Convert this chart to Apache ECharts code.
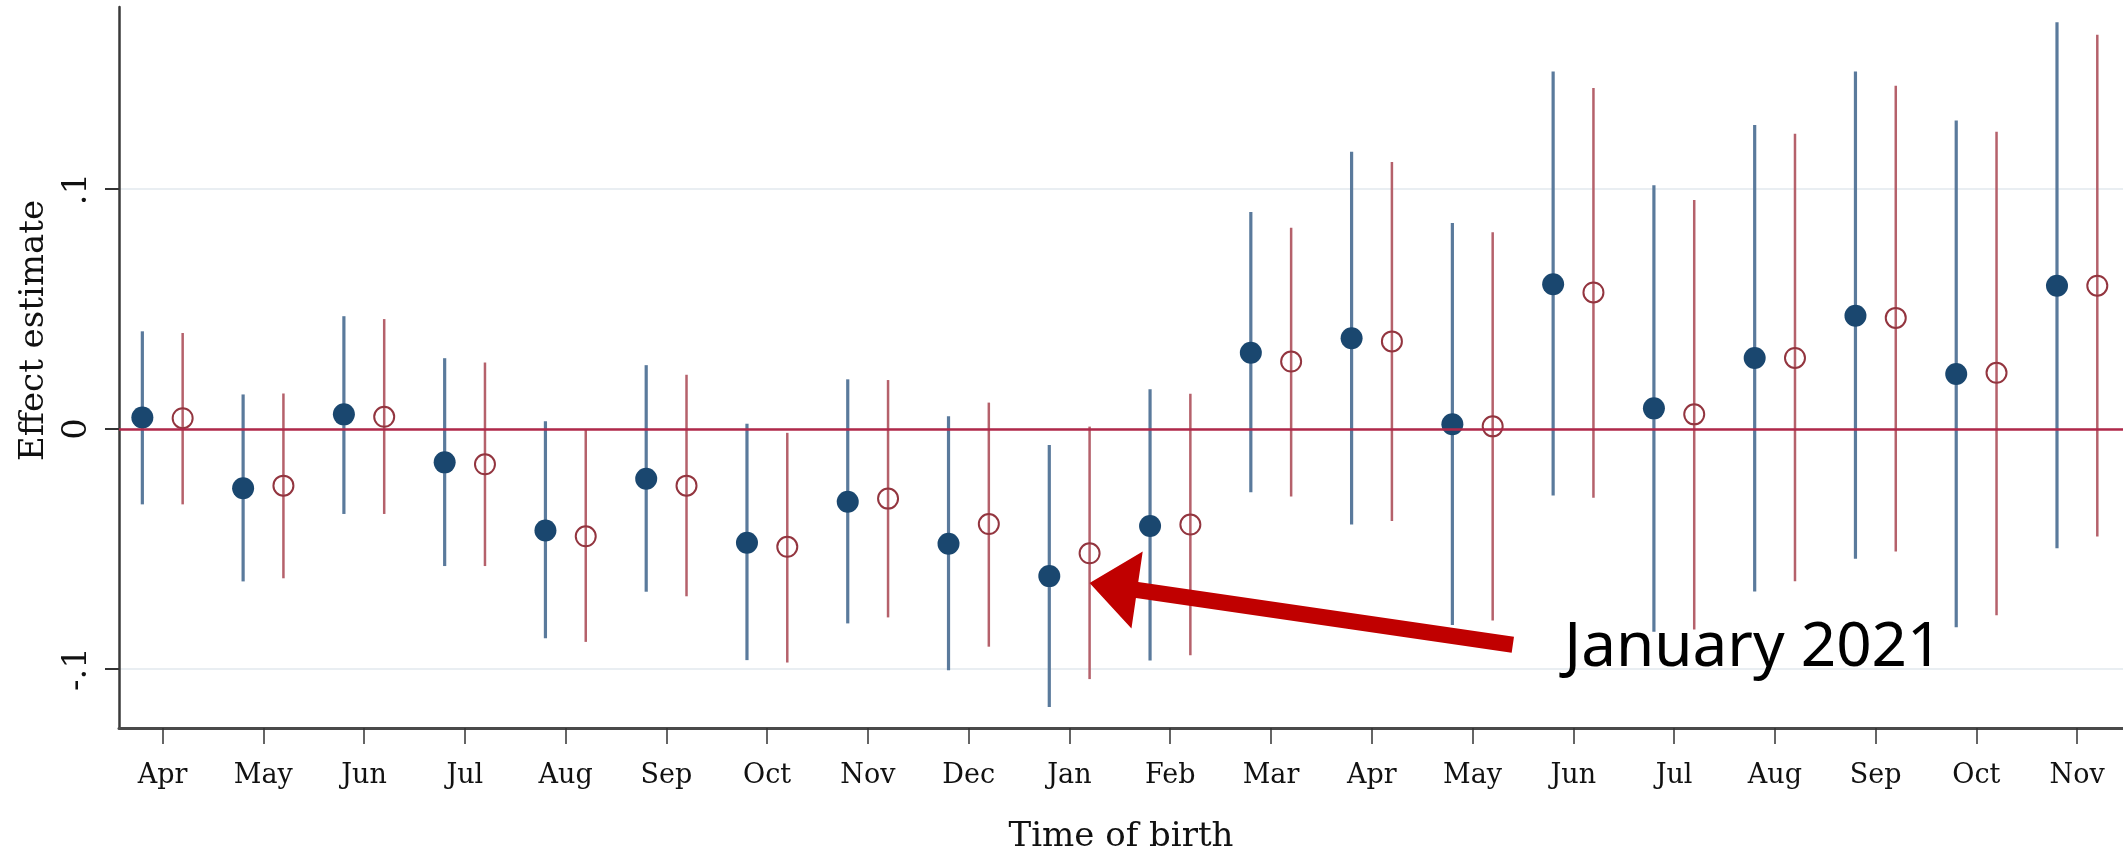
<!DOCTYPE html>
<html><head><meta charset="utf-8">
<script src="https://cdn.jsdelivr.net/npm/echarts@6/dist/echarts.min.js"></script>
<style>html,body{margin:0;padding:0;background:#fff;} #chart{width:2123px;height:848px;}</style>
</head><body><div id="chart"></div>
<script>
// ---- data ----
const months = ['Apr','May','Jun','Jul','Aug','Sep','Oct','Nov','Dec','Jan','Feb','Mar','Apr','May','Jun','Jul','Aug','Sep','Oct','Nov'];
const blueEst = [0.0048,-0.0247,0.0061,-0.0139,-0.0423,-0.0207,-0.0474,-0.0303,-0.0478,-0.0613,-0.0404,0.0318,0.0378,0.0020,0.0603,0.0086,0.0296,0.0472,0.0229,0.0597];
const blueLo  = [-0.0314,-0.0635,-0.0354,-0.0571,-0.0872,-0.0678,-0.0963,-0.0810,-0.1005,-0.1158,-0.0965,-0.0264,-0.0398,-0.0817,-0.0277,-0.0845,-0.0677,-0.0541,-0.0826,-0.0497];
const blueHi  = [0.0407,0.0144,0.0470,0.0295,0.0032,0.0266,0.0022,0.0207,0.0053,-0.0067,0.0166,0.0904,0.1155,0.0858,0.1490,0.1016,0.1267,0.1490,0.1285,0.1695];
const redEst  = [0.0045,-0.0236,0.0051,-0.0147,-0.0447,-0.0236,-0.0491,-0.0290,-0.0396,-0.0518,-0.0398,0.0281,0.0365,0.0011,0.0569,0.0061,0.0296,0.0463,0.0234,0.0597];
const redLo   = [-0.0314,-0.0622,-0.0354,-0.0571,-0.0887,-0.0697,-0.0973,-0.0785,-0.0907,-0.1042,-0.0943,-0.0281,-0.0383,-0.0798,-0.0286,-0.0835,-0.0634,-0.0510,-0.0776,-0.0448];
const redHi   = [0.0400,0.0148,0.0458,0.0277,-0.0003,0.0226,-0.0016,0.0204,0.0110,0.0010,0.0147,0.0839,0.1112,0.0820,0.1421,0.0954,0.1230,0.1430,0.1239,0.1643];
const yTicks = [-0.1, 0, 0.1];
const xTicks = months.map((m, i) => i + 1);
const annotationText = 'January 2021';
const annotationTip = [10.2, -0.0642];   // data coords the arrow points to
const annotationTail = [14.40, -0.0899]; // data coords of arrow tail
const annotationTextPos = [14.91, -0.0913];

// ---- layout / style ----
const X_MIN = 0.5683, X_MAX = 20.455;
const Y_MIN = -0.12458, Y_MAX = 0.17583;
const OFF = 0.2;
const SERIF = '"DejaVu Serif", "Liberation Serif", serif';
const BLUE_DOT = '#1a476f', BLUE_CI = '#5a7a9c';
const RED_DOT = '#93353f', RED_CI = '#b5616b';

const chart = echarts.init(document.getElementById('chart'), null, {renderer: 'canvas'});

function ciSeries(name, lo, hi, off, color, width) {
  return {
    type: 'custom', name, silent: true, z: 2,
    data: lo.map((v, i) => [i + 1, v, hi[i]]),
    encode: {x: 0, y: [1, 2]},
    renderItem: (params, api) => {
      const a = api.coord([api.value(0) + off, api.value(1)]);
      const b = api.coord([api.value(0) + off, api.value(2)]);
      return {type: 'line', shape: {x1: a[0], y1: a[1], x2: b[0], y2: b[1]},
              style: {stroke: color, lineWidth: width}};
    }
  };
}

function fmtY(v) {
  if (Math.abs(v) < 1e-9) return '0';
  return (Math.round(v * 10) / 10).toString().replace('0.', '.');
}

chart.setOption({
  animation: false,
  backgroundColor: '#ffffff',
  grid: {left: 119, right: 0, top: 7, bottom: 120, containLabel: false, outerBoundsMode: 'none'},
  xAxis: {
    type: 'value', min: X_MIN, max: X_MAX,
    axisLine: {show: true, onZero: false, lineStyle: {color: '#4a4a4a', width: 3}},
    axisTick: {show: true, customValues: xTicks, length: 16, lineStyle: {color: '#333', width: 1.5}},
    axisLabel: {customValues: xTicks, formatter: v => months[Math.round(v) - 1], fontFamily: SERIF,
                fontSize: 27, color: '#111', margin: 34, hideOverlap: false},
    splitLine: {show: false},
    name: 'Time of birth', nameLocation: 'middle', nameGap: 92,
    nameTextStyle: {fontFamily: SERIF, fontSize: 34, color: '#111'}
  },
  yAxis: {
    type: 'value', min: Y_MIN, max: Y_MAX,
    axisLine: {show: true, onZero: false, lineStyle: {color: '#3a3a3a', width: 2.5}},
    axisTick: {show: true, customValues: yTicks, length: 14, lineStyle: {color: '#333', width: 2}},
    axisLabel: {customValues: yTicks, formatter: fmtY, rotate: 90, fontFamily: SERIF,
                fontSize: 34, color: '#111', margin: 25},
    splitLine: {show: true, lineStyle: {color: '#e9eef2', width: 2}},
    name: 'Effect estimate', nameLocation: 'middle', nameGap: 68, nameRotate: 90,
    nameTextStyle: {fontFamily: SERIF, fontSize: 34, color: '#111', padding: [0, 0, 0, 74]}
  },
  series: [
    ciSeries('Blue CI', blueLo, blueHi, -OFF, BLUE_CI, 3.2),
    ciSeries('Red CI', redLo, redHi, OFF, RED_CI, 2.5),
    {
      type: 'scatter', name: 'Blue', z: 4,
      data: blueEst.map((v, i) => [i + 1 - OFF, v]),
      symbol: 'circle', symbolSize: 22,
      itemStyle: {color: BLUE_DOT, opacity: 1},
      markLine: {
        silent: true, symbol: 'none', label: {show: false},
        lineStyle: {color: '#b0284a', width: 2.5, type: 'solid'},
        data: [{yAxis: 0}]
      }
    },
    {
      type: 'scatter', name: 'Red', z: 4,
      data: redEst.map((v, i) => [i + 1 + OFF, v]),
      symbol: 'circle', symbolSize: 20,
      itemStyle: {color: 'rgba(0,0,0,0)', borderColor: RED_DOT, borderWidth: 2, opacity: 1}
    }
  ]
});

// annotation arrow + label anchored to data coordinates
const tip = chart.convertToPixel({gridIndex: 0}, annotationTip);
const tail = chart.convertToPixel({gridIndex: 0}, annotationTail);
const tpos = chart.convertToPixel({gridIndex: 0}, annotationTextPos);
const dx = tail[0] - tip[0], dy = tail[1] - tip[1];
const L = Math.hypot(dx, dy);
const ux = dx / L, uy = dy / L, nx = -uy, ny = ux;
const headLen = 48, headHalf = 39, shaftHalf = 8;
const P = (a, b) => [tip[0] + ux * a + nx * b, tip[1] + uy * a + ny * b];
const arrowPts = [P(0, 0), P(headLen, -headHalf), P(headLen, -shaftHalf), P(L, -shaftHalf),
                  P(L, shaftHalf), P(headLen, shaftHalf), P(headLen, headHalf)];

chart.setOption({
  graphic: [
    {type: 'polygon', shape: {points: arrowPts}, style: {fill: '#c00000'}, z: 10},
    {type: 'text', x: tpos[0], y: tpos[1], z: 10,
     style: {text: annotationText, fontFamily: '"Noto Sans", "Open Sans", sans-serif', fontSize: 62,
             fill: '#000', verticalAlign: 'middle', align: 'left'}}
  ]
});
</script></body></html>
